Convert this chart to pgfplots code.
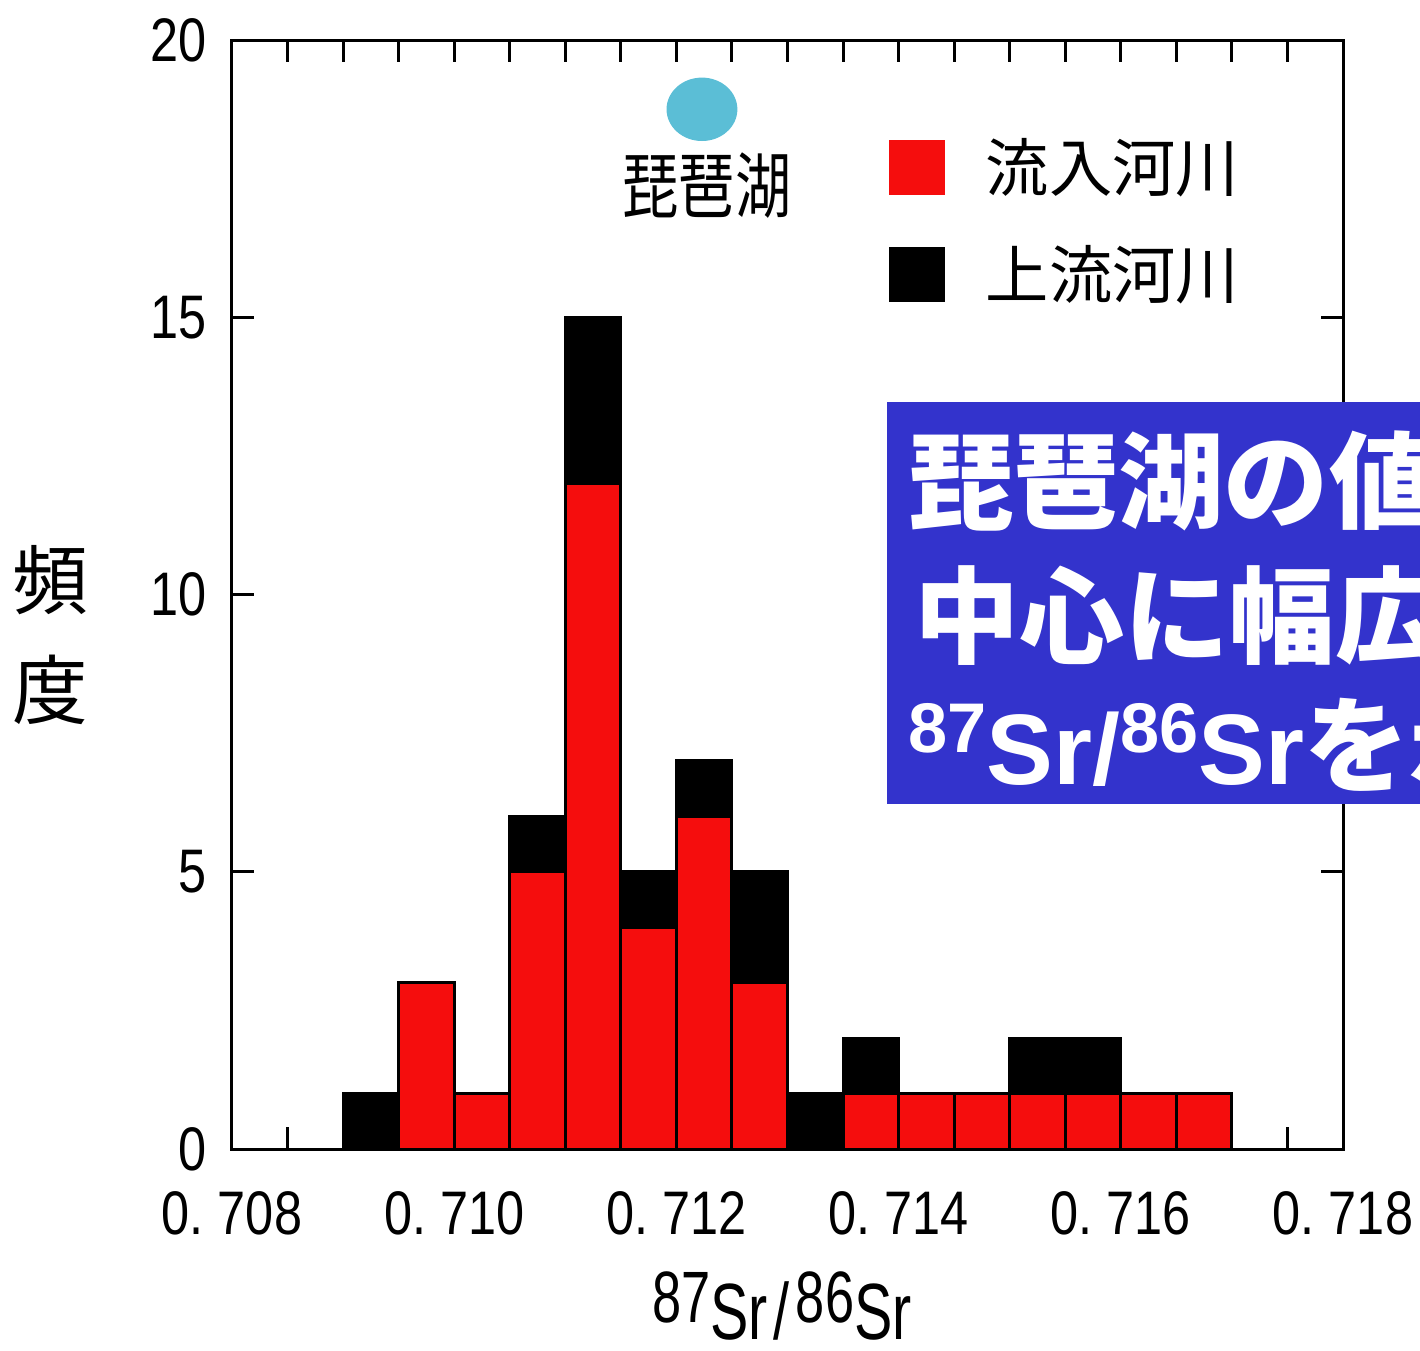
\documentclass[border=0pt]{standalone}
\usepackage{fontspec}
\usepackage{pgfplots}
\pgfplotsset{compat=1.18}
\newfontfamily\jp{Noto Sans CJK JP}
\newfontfamily\jpn{Noto Sans CJK JP}[FakeStretch=0.78]
\newfontfamily\tickf{Liberation Sans}[FakeStretch=0.82]
\newfontfamily\labf{Liberation Sans}[FakeStretch=0.72]
\newfontfamily\lsans{Liberation Sans}
\definecolor{barred}{RGB}{245,13,13}
\definecolor{lakeblue}{RGB}{91,190,214}
\definecolor{boxblue}{RGB}{51,51,204}
\begin{document}
\begin{tikzpicture}
\begin{axis}[
  at={(23.2mm,20.1mm)}, anchor=south west,
  scale only axis, width=111.1mm, height=110.9mm,
  xmin=0, xmax=10, ymin=0, ymax=20,
  ybar stacked, bar width=0.5,
  xtick={0,2,4,6,8,10},
  xticklabels={0.\ 708,0.\ 710,0.\ 712,0.\ 714,0.\ 716,0.\ 718},
  minor xtick={0.5,1,1.5,2.5,3,3.5,4.5,5,5.5,6.5,7,7.5,8.5,9,9.5},
  ytick={0,5,10,15,20}, yticklabels={0,5,10,15,20},
  tick align=inside,
  major tick length=2.2mm, minor tick length=2.2mm,
  every tick/.style={black, line width=0.3mm},
  axis line style={line width=0.3mm},
  ticklabel style={font=\tickf\fontsize{17.5pt}{17.5pt}\selectfont},
  xticklabel style={yshift=-3.0mm},
  yticklabel style={xshift=-1.3mm},
  xlabel={\raisebox{1.7mm}{\fontsize{20.7pt}{20pt}\selectfont 87}Sr\hspace{0.6mm}/\hspace{0.6mm}\raisebox{1.7mm}{\fontsize{20.7pt}{20pt}\selectfont 86}Sr},
  xlabel style={at={(axis description cs:0.495,-0.1722)}, anchor=base, inner sep=0pt,
    font=\labf\fontsize{22.7pt}{22.7pt}\selectfont},
  ylabel={頻\\度},
  ylabel style={rotate=-90, align=center, at={(axis description cs:-0.1638,0.4635)}, anchor=center,
    font=\jp\fontsize{21.5pt}{31.3pt}\selectfont},
  legend style={at={(axis description cs:0.5905,0.9143)}, anchor=north west,
    draw=none, fill=none, inner sep=0pt, row sep=4.35mm, column sep=4.1mm,
    font=\jp\fontsize{18pt}{18pt}\selectfont,
    nodes={inner sep=0pt, text height=5.6mm, text depth=0.76mm}},
  legend cell align=left,
  legend image code/.code={\fill[#1, draw=none] (0mm,-2.75mm) rectangle (5.6mm,2.75mm);},
]
\addplot[fill=barred, draw=black, line width=0.3mm] coordinates {
 (1.25,0) (1.75,3) (2.25,1) (2.75,5) (3.25,12) (3.75,4) (4.25,6) (4.75,3)
 (5.25,0) (5.75,1) (6.25,1) (6.75,1) (7.25,1) (7.75,1) (8.25,1) (8.75,1)};
\addlegendentry{流入河川}
\addplot[fill=black, draw=black, line width=0.3mm] coordinates {
 (1.25,1) (1.75,0) (2.25,0) (2.75,1) (3.25,3) (3.75,1) (4.25,1) (4.75,2)
 (5.25,1) (5.75,1) (6.25,0) (6.75,0) (7.25,1) (7.75,1) (8.25,0) (8.75,0)};
\addlegendentry{上流河川}
\end{axis}
\begin{axis}[
  at={(23.2mm,20.1mm)}, anchor=south west,
  scale only axis, width=111.1mm, height=110.9mm,
  xmin=0, xmax=10, ymin=0, ymax=20, hide axis, clip=false]
\addplot[only marks, mark=*, color=lakeblue, mark size=3.1mm,
  mark options={fill=lakeblue, draw=lakeblue, xscale=1.12}]
  coordinates {(4.23,18.75)};
\node[inner sep=0pt, font=\jpn\fontsize{20.5pt}{20.5pt}\selectfont] at (axis cs:4.275,17.38) {琵琶湖};
\end{axis}
\begin{scope}
\clip (0,0) rectangle (142mm,135mm);
\fill[boxblue] (88.7mm,54.6mm) rectangle (150mm,94.8mm);
\node[anchor=base west, inner sep=0pt, text=white, font=\jp\bfseries\fontsize{29.9pt}{30pt}\selectfont]
  at (90.8mm,82.9mm) {琵琶湖の値を};
\node[anchor=base west, inner sep=0pt, text=white, font=\jp\bfseries\fontsize{29.9pt}{30pt}\selectfont]
  at (91.4mm,69.5mm) {中心に幅広い};
\node[anchor=base west, inner sep=0pt, text=white]
  at (90.8mm,56.6mm) {\lsans\bfseries\raisebox{3.2mm}{\fontsize{20pt}{20pt}\selectfont 87}\fontsize{28.5pt}{28pt}\selectfont Sr/\raisebox{3.2mm}{\fontsize{20pt}{20pt}\selectfont 86}Sr\jp\fontsize{29.9pt}{30pt}\selectfont を示す};
\end{scope}
\pgfresetboundingbox
\useasboundingbox (0,0) rectangle (142mm,135mm);
\end{tikzpicture}
\end{document}
